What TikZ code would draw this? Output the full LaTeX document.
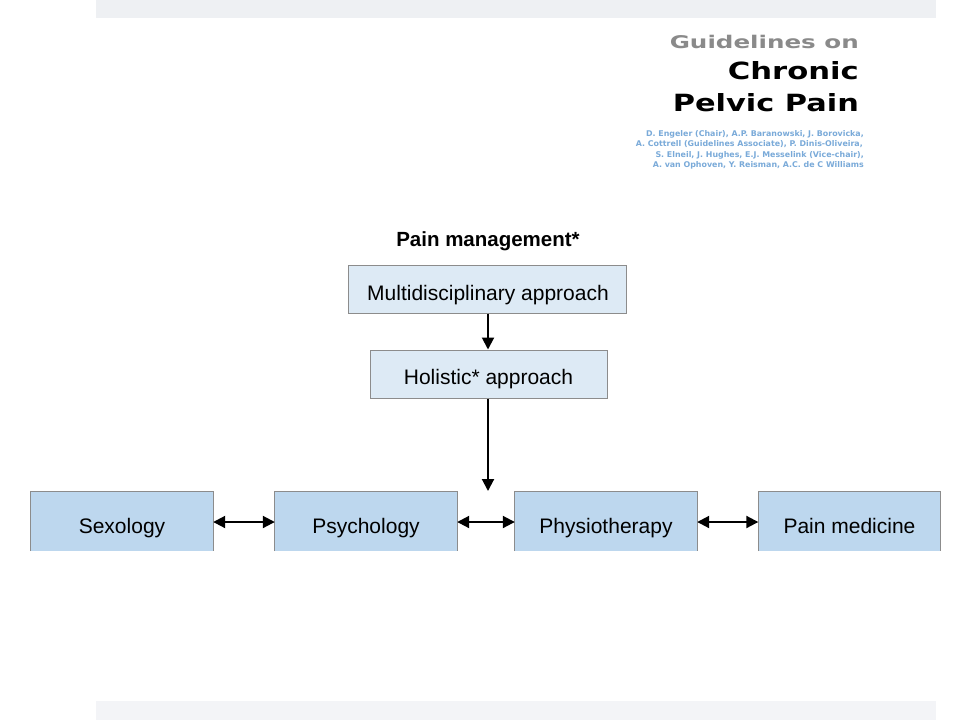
\documentclass[tikz,border=0pt]{standalone}
\usepackage{fontspec}
\setmainfont{Liberation Sans}
\newfontfamily\logofont{DejaVu Sans}
\usetikzlibrary{arrows.meta}
\definecolor{topbar}{HTML}{EEF0F3}
\definecolor{botbar}{HTML}{F3F4F7}
\definecolor{lightbox}{HTML}{DDEAF5}
\definecolor{midbox}{HTML}{BDD7EE}
\definecolor{boxline}{HTML}{8C8C8C}
\definecolor{logogray}{HTML}{8A8A8A}
\definecolor{logoblue}{HTML}{7AAAD9}
\tikzset{
  upperbox/.style={draw=boxline, line width=1pt, fill=lightbox, inner sep=0pt},
  lowerbox/.style={fill=midbox, inner sep=0pt, minimum width=182pt, minimum height=59pt},
  boxtext/.style={anchor=base, inner sep=0pt, font=\fontsize{21}{25}\selectfont, text=black},
  lowerline/.style={draw=boxline, line width=1pt},
  logoline/.style={anchor=base east, inner sep=0pt, font=\logofont\bfseries},
  authline/.style={anchor=base east, inner sep=0pt, text=logoblue, font=\logofont\bfseries\fontsize{7.9}{10.4}\selectfont},
  link/.style={line width=2pt, -{Triangle[length=12pt,width=12pt]}},
  dlink/.style={line width=2pt, {Triangle[length=12pt,width=12pt]}-{Triangle[length=12pt,width=12pt]}},
}
\begin{document}
\begin{tikzpicture}[x=1pt,y=-1pt]
\useasboundingbox (0,0) rectangle (960,720);
\fill[white] (0,0) rectangle (960,720);
\fill[topbar] (96,0) rectangle (936,18);
\fill[botbar] (96,701) rectangle (936,720);

% logo
\node[logoline, text=logogray] (g1) at (859,48) {\resizebox{189pt}{13.3pt}{Guidelines on}};
\node[logoline, text=black] (g2) at (859,79) {\resizebox{131pt}{18pt}{Chronic}};
\node[logoline, text=black] (g3) at (859,111) {\resizebox{186pt}{18pt}{Pelvic Pain}};
\node[authline] (a1) at (864,136) {D. Engeler (Chair), A.P. Baranowski, J. Borovicka,};
\node[authline] (a2) at (863,146.5) {A. Cottrell (Guidelines Associate), P. Dinis-Oliveira,};
\node[authline] (a3) at (864,157) {S. Elneil, J. Hughes, E.J. Messelink (Vice-chair),};
\node[authline] (a4) at (864,167.5) {A. van Ophoven, Y. Reisman, A.C. de C Williams};

% title
\node[anchor=base, inner sep=0pt, font=\bfseries\fontsize{20.5}{24}\selectfont] (title) at (488,246) {Pain management*};

% upper boxes
\node[upperbox, minimum width=278pt, minimum height=48pt] (multi) at (487,289) {};
\node[upperbox, minimum width=237pt, minimum height=48pt] (holi) at (488.5,374) {};
\node[boxtext] (multit) at (488,300) {Multidisciplinary approach};
\node[boxtext] (holit) at (488.5,384) {Holistic* approach};

% lower boxes
\node[lowerbox] (sex) at (122,521.5) {};
\node[lowerbox] (psy) at (366,521.5) {};
\node[lowerbox] (phy) at (606,521.5) {};
\node[lowerbox] (pain) at (849.5,521.5) {};
\node[boxtext] (sext) at (122,533) {Sexology};
\node[boxtext] (psyt) at (366,533) {Psychology};
\node[boxtext] (phyt) at (606,533) {Physiotherapy};
\node[boxtext] (paint) at (849.5,533) {Pain medicine};
\foreach \n in {sex,psy,phy,pain}{
  \draw[lowerline] (\n.south west) |- (\n.north east) -- (\n.south east);
}

% connectors
\coordinate (hend) at (488,491);
\draw[link] (multi.south -| 488,0) -- (holi.north -| 488,0);
\draw[link] (holi.south -| 488,0) -- (hend);
\draw[dlink] (sex.east |- 0,522) -- (psy.west |- 0,522);
\draw[dlink] (psy.east |- 0,522) -- (phy.west |- 0,522);
\draw[dlink] (phy.east |- 0,522) -- (pain.west |- 0,522);
\end{tikzpicture}
\end{document}
